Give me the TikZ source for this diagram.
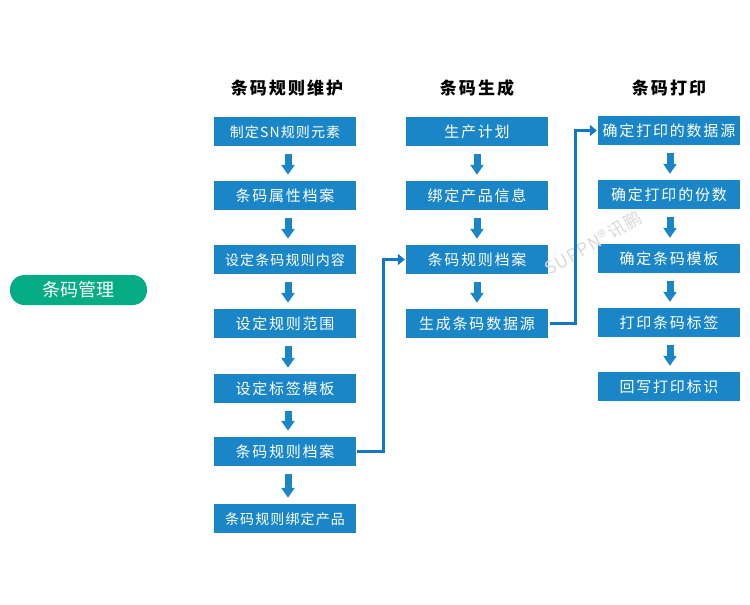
\documentclass[tikz,border=0pt]{standalone}
\usepackage{fontspec}
\setmainfont{Noto Sans CJK SC}
\usetikzlibrary{arrows.meta}
\definecolor{boxblue}{HTML}{1A86C8}
\definecolor{arrowblue}{HTML}{1278C4}
\definecolor{pillgreen}{HTML}{06AC84}
\newfontfamily\widefont[LetterSpace=12]{Noto Sans CJK SC}
\newfontfamily\smallfont[LetterSpace=8]{Noto Sans CJK SC}
\newfontfamily\headfont[LetterSpace=12]{Noto Sans CJK SC}
\newfontfamily\markfont[LetterSpace=6]{Noto Sans CJK SC}
\tikzset{
  flowbox/.style={fill=boxblue,text=white,minimum width=142pt,minimum height=29pt,inner sep=0pt,text height=12pt,text depth=0pt,font=\widefont\fontsize{15}{17}\selectfont},
  smallbox/.style={flowbox,font=\smallfont\fontsize{14}{16}\selectfont},
  headtext/.style={inner sep=0pt,font=\headfont\fontsize{17}{19}\selectfont\bfseries},
  downarrow/.style={boxblue,line width=7pt,-{Triangle[width=13pt,length=10pt]},shorten <=8pt,shorten >=6pt},
  elbowarrow/.style={arrowblue,line width=3.2pt,-{Triangle[width=11pt,length=7pt]}}
}
\begin{document}
\begin{tikzpicture}[x=1pt,y=-1pt]
  \useasboundingbox (0,0) rectangle (750,605);
  \node[rectangle,rounded corners=14.5pt,fill=pillgreen,text=white,minimum width=137pt,minimum height=30pt,inner sep=0pt,text height=12pt,text depth=0pt,font=\fontsize{18}{20}\selectfont] (main) at (78.5,290) {条码管理};
  % column headings
  \node[headtext] (head1) at (287,88) {条码规则维护};
  \node[headtext] (head2) at (477,88) {条码生成};
  \node[headtext] (head3) at (669,88) {条码打印};
  % first column
  \node[smallbox] (a1) at (285,131.5) {制定SN规则元素};
  \node[flowbox] (a2) at (285,195.5) {条码属性档案};
  \node[smallbox] (a3) at (285,259.5) {设定条码规则内容};
  \node[flowbox] (a4) at (285,323.5) {设定规则范围};
  \node[flowbox] (a5) at (285,388.5) {设定标签模板};
  \node[flowbox] (a6) at (285,451.5) {条码规则档案};
  \node[smallbox] (a7) at (285,518.5) {条码规则绑定产品};
  % second column
  \node[flowbox] (b1) at (477,131.5) {生产计划};
  \node[flowbox] (b2) at (477,195.5) {绑定产品信息};
  \node[flowbox] (b3) at (477,259.5) {条码规则档案};
  \node[flowbox] (b4) at (477,323.5) {生成条码数据源};
  % third column
  \node[flowbox] (c1) at (669,130.5) {确定打印的数据源};
  \node[flowbox] (c2) at (669,194.5) {确定打印的份数};
  \node[flowbox] (c3) at (669,258.5) {确定条码模板};
  \node[flowbox] (c4) at (669,322.5) {打印条码标签};
  \node[flowbox] (c5) at (669,386.5) {回写打印标识};
  \node[rotate=30,text=black!15,inner sep=0pt,font=\markfont\fontsize{17.5}{20}\selectfont] (mark) at (593,243) {SUPPN®讯鹏};
  \begin{scope}[every path/.style={downarrow}]
    \draw ([xshift=3pt]a1.south) -- ([xshift=3pt]a2.north);
    \draw ([xshift=3pt]a2.south) -- ([xshift=3pt]a3.north);
    \draw ([xshift=3pt]a3.south) -- ([xshift=3pt]a4.north);
    \draw ([xshift=3pt]a4.south) -- ([xshift=3pt]a5.north);
    \draw ([xshift=3pt]a5.south) -- ([xshift=3pt]a6.north);
    \draw ([xshift=3pt]a6.south) -- ([xshift=3pt]a7.north);
    \draw (b1.south) -- (b2.north);
    \draw (b2.south) -- (b3.north);
    \draw (b3.south) -- (b4.north);
    \draw ([xshift=1pt]c1.south) -- ([xshift=1pt]c2.north);
    \draw ([xshift=1pt]c2.south) -- ([xshift=1pt]c3.north);
    \draw ([xshift=1pt]c3.south) -- ([xshift=1pt]c4.north);
    \draw ([xshift=1pt]c4.south) -- ([xshift=1pt]c5.north);
  \end{scope}
  \draw[elbowarrow] ([xshift=1pt]a6.east) -| (383.5,259.5) -- ([xshift=-1pt]b3.west);
  \draw[elbowarrow] ([xshift=2pt]b4.east) -| (575.5,130.5) -- ([xshift=-1pt]c1.west);
\end{tikzpicture}
\end{document}
